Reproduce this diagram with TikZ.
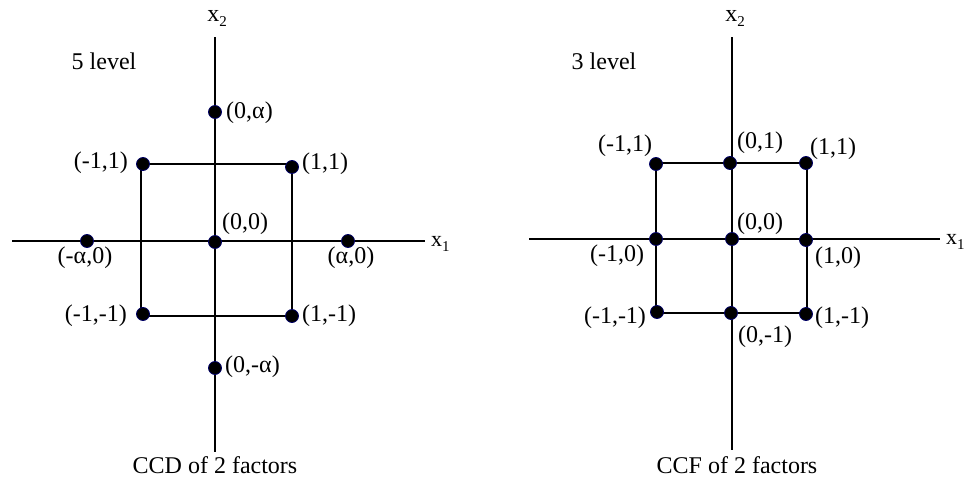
\documentclass[tikz,border=0pt]{standalone}
\usepackage{fontspec}
\setmainfont{Liberation Serif}
\begin{document}
\begin{tikzpicture}[x=1pt,y=-1pt,
  ax/.style={line width=2.8pt,black},
  dot/.style={circle,fill=black,draw=black!60!blue,line width=0.8pt,inner sep=0pt,minimum size=13pt},
  lbl/.style={inner sep=0pt,anchor=center,font=\fontsize{24}{24}\selectfont},
  axl/.style={inner sep=0pt,anchor=west,font=\fontsize{22}{22}\selectfont}]
\useasboundingbox (0,0) rectangle (967,479);
\newcommand{\xsub}[1]{x\raisebox{-5pt}{\fontsize{15}{15}\selectfont #1}}
% ---------------- left: CCD ----------------
\coordinate (Lvt) at (215,37);
\coordinate (Lvb) at (215,452);
\coordinate (Lhl) at (12,241);
\coordinate (Lhr) at (425,241);
\draw[ax] (Lvt) -- (Lvb);
\draw[ax] (Lhl) -- (Lhr);
\coordinate (Lmm) at (141,316);
\coordinate (Lmp) at (141,164);
\coordinate (Lpp) at (292,164);
\coordinate (Lpm) at (292,316);
\draw[ax] (Lmp) -- (Lpp) -- (Lpm) -- (Lmm) -- cycle;
\node[dot] (La)  at (215,112) {};
\node[dot] (Lmpd) at (143,164) {};
\node[dot] (Lppd) at (292,167) {};
\node[dot] (Lc)  at (215,242) {};
\node[dot] (Lma) at (87,241) {};
\node[dot] (Lpa) at (348,241) {};
\node[dot] (Lmmd) at (143,314) {};
\node[dot] (Lpmd) at (292,316) {};
\node[dot] (Lna) at (215,368) {};
\node[lbl] (Lt5) at (104,61) {5 level};
\node[lbl] (Lx2) at (217,18) {\xsub{2}};
\node[axl] (Lx1) at (431,244) {\xsub{1}};
\node[lbl,anchor=west] (Lla) at (226,113) {(0,α)};
\node[lbl,anchor=east] (Llmp) at (128,163) {(-1,1)};
\node[lbl,anchor=west] (Llpp) at (302,164) {(1,1)};
\node[lbl] (Llc) at (245,224) {(0,0)};
\node[lbl] (Llma) at (85,258) {(-α,0)};
\node[lbl] (Llpa) at (351,258) {(α,0)};
\node[lbl,anchor=east] (Llmm) at (127,316) {(-1,-1)};
\node[lbl,anchor=west] (Llpm) at (302,316) {(1,-1)};
\node[lbl,anchor=west] (Llna) at (225,367) {(0,-α)};
\node[lbl] (Lcap) at (215,465) {CCD of 2 factors};
% ---------------- right: CCF ----------------
\coordinate (Rvt) at (732,37);
\coordinate (Rvb) at (732,450);
\coordinate (Rhl) at (529,239);
\coordinate (Rhr) at (940,239);
\draw[ax] (Rvt) -- (Rvb);
\draw[ax] (Rhl) -- (Rhr);
\coordinate (Rsq1) at (656,163);
\coordinate (Rsq2) at (807,163);
\coordinate (Rsq3) at (807,313);
\coordinate (Rsq4) at (656,313);
\draw[ax] (Rsq1) -- (Rsq2) -- (Rsq3) -- (Rsq4) -- cycle;
\node[dot] (Rmp) at (656,164) {};
\node[dot] (Rzp) at (730,163) {};
\node[dot] (Rpp) at (806,163) {};
\node[dot] (Rmz) at (656,239) {};
\node[dot] (Rzz) at (732,239) {};
\node[dot] (Rpz) at (806,240) {};
\node[dot] (Rmm) at (657,312) {};
\node[dot] (Rzm) at (731,313) {};
\node[dot] (Rpm) at (806,314) {};
\node[lbl] (Rt3) at (604,61) {3 level};
\node[lbl] (Rx2) at (735,18) {\xsub{2}};
\node[axl] (Rx1) at (946,242) {\xsub{1}};
\node[lbl] (Rlmp) at (625,146) {(-1,1)};
\node[lbl] (Rlzp) at (760,143) {(0,1)};
\node[lbl] (Rlpp) at (833,149) {(1,1)};
\node[lbl] (Rlzz) at (760,224) {(0,0)};
\node[lbl] (Rlmz) at (617,256) {(-1,0)};
\node[lbl] (Rlpz) at (838,258) {(1,0)};
\node[lbl] (Rlmm) at (615,318) {(-1,-1)};
\node[lbl] (Rlzm) at (765,337) {(0,-1)};
\node[lbl] (Rlpm) at (842,318) {(1,-1)};
\node[lbl] (Rcap) at (737,465) {CCF of 2 factors};
\end{tikzpicture}
\end{document}
